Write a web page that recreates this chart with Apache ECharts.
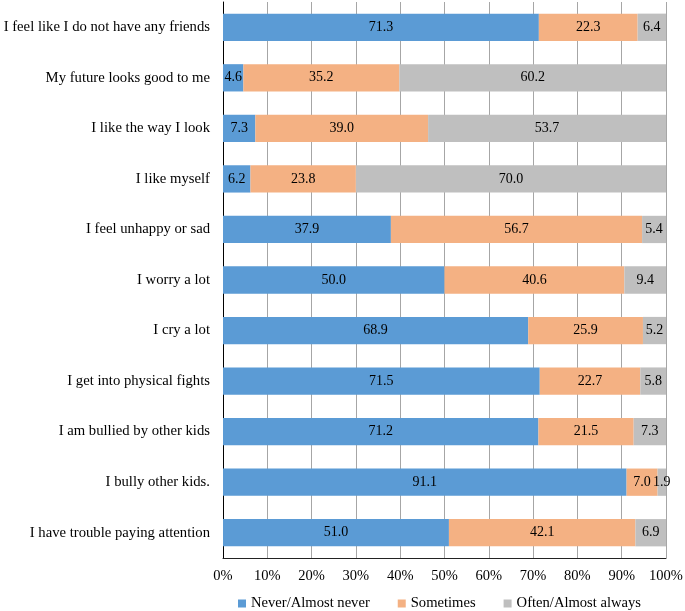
<!DOCTYPE html>
<html><head><meta charset="utf-8">
<script src="https://cdn.jsdelivr.net/npm/echarts@6/dist/echarts.min.js"></script>
<style>html,body{margin:0;padding:0;background:#fff}#c{width:685px;height:611px}</style>
</head><body><div id="c"></div>
<script>
const categories = ["I feel like I do not have any friends","My future looks good to me","I like the way I look","I like myself","I feel unhappy or sad","I worry a lot","I cry a lot","I get into physical fights","I am bullied by other kids","I bully other kids.","I have trouble paying attention"];
const never = [71.3,4.6,7.3,6.2,37.9,50.0,68.9,71.5,71.2,91.1,51.0];
const sometimes = [22.3,35.2,39.0,23.8,56.7,40.6,25.9,22.7,21.5,7.0,42.1];
const often = [6.4,60.2,53.7,70.0,5.4,9.4,5.2,5.8,7.3,1.9,6.9];
const seriesNames = ["Never/Almost never","Sometimes","Often/Almost always"];
const colors = ["#5B9BD5","#F4B183","#BFBFBF"];
const font = "Liberation Serif";
const chart = echarts.init(document.getElementById('c'));
function mk(name, data, color){
  return {name, type:'bar', stack:'t', data, barWidth:'54%',
    itemStyle:{color},
    label:{show:true, position:'inside', color:'#000', fontFamily:font, fontSize:14,
      formatter:p=>p.value.toFixed(1)}};
}
chart.setOption({
  animation:false,
  textStyle:{fontFamily:font},
  grid:{left:223,right:19,top:2,bottom:53,containLabel:false,outerBoundsMode:'none'},
  legend:{top:591,left:233,itemWidth:8,itemHeight:8,itemGap:28,icon:'rect',
    textStyle:{fontFamily:font,fontSize:14.6,color:'#000'},data:seriesNames},
  xAxis:{type:'value',min:0,max:100,interval:10,
    axisLabel:{formatter:'{value}%',fontFamily:font,fontSize:14.5,color:'#000',margin:11},
    axisLine:{show:true,lineStyle:{color:'#222'}},axisTick:{show:false},
    splitLine:{lineStyle:{color:'#a6a6a6'}}},
  yAxis:{type:'category',data:categories,inverse:true,
    axisLabel:{fontFamily:font,fontSize:14.7,color:'#000',margin:13},
    axisLine:{show:true,lineStyle:{color:'#000'}},axisTick:{show:false}},
  series:[mk(seriesNames[0],never,colors[0]),mk(seriesNames[1],sometimes,colors[1]),mk(seriesNames[2],often,colors[2])]
});
</script></body></html>
